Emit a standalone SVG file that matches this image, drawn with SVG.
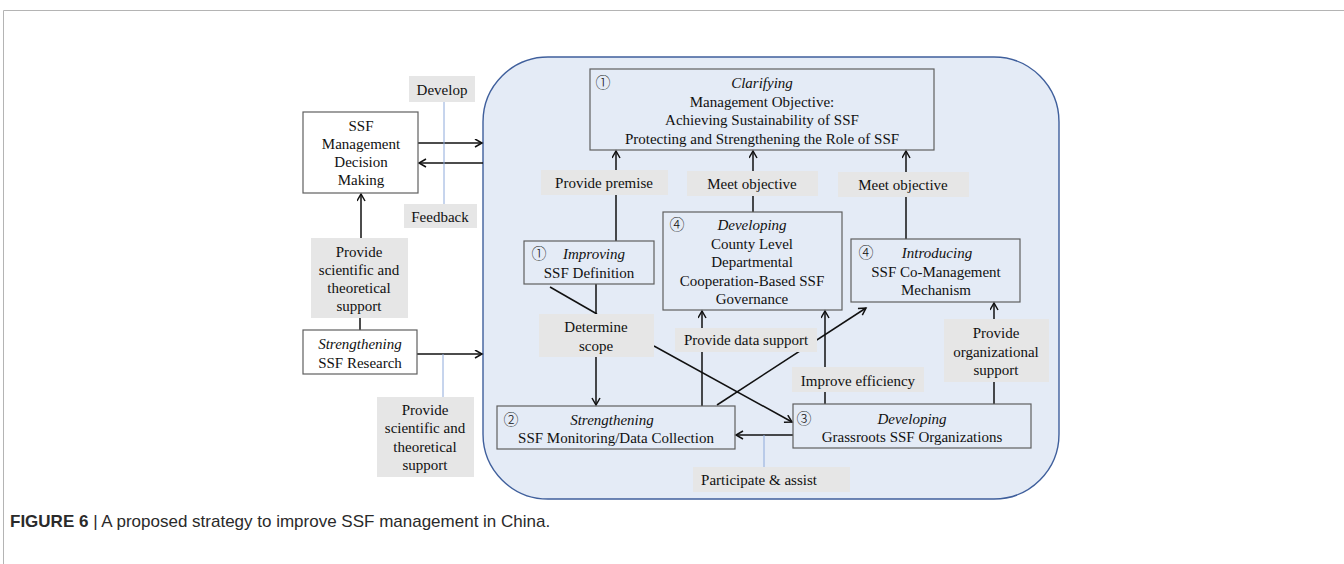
<svg xmlns="http://www.w3.org/2000/svg" width="1344" height="564" viewBox="0 0 1344 564">
<style>
text{font-family:"Liberation Serif","Noto Sans CJK SC",serif;font-size:15px;fill:#111;text-anchor:middle}
.it{font-style:italic}
.num{font-family:"Noto Sans CJK SC","DejaVu Sans",sans-serif;font-size:15px;font-weight:300}
.box{fill:none;stroke:#5f5f5f;stroke-width:1.2}
.wbox{fill:#fff;stroke:#5f5f5f;stroke-width:1.2}
.lab{fill:#e6e6e6;stroke:none}
.ar{fill:none;stroke:#111;stroke-width:1.5}
.bl{fill:none;stroke:#8eaadb;stroke-width:1}
.cap{font-family:"Liberation Sans",Arial,sans-serif;font-size:17px;text-anchor:start;fill:#2a2a2a}
</style>
<defs>
<marker id="ah" markerUnits="userSpaceOnUse" markerWidth="10" markerHeight="10" refX="8" refY="4.5" orient="auto">
<path d="M1,0.5 L8,4.5 L1,8.5" fill="none" stroke="#111" stroke-width="1.5"/>
</marker>
</defs>
<g id="frame">
<path d="M3.5,564 V10.5 H1344" fill="none" stroke="#b4b4b4" stroke-width="1"/>
</g>
<g id="container">
<rect x="483" y="57" width="576" height="442" rx="65" ry="65" fill="#e4ebf6" stroke="#3f5f9c" stroke-width="1.4"/>
</g>
<g id="connectors">
<line class="ar" x1="418" y1="143" x2="482" y2="143" marker-end="url(#ah)"/>
<line class="ar" x1="483" y1="163" x2="419" y2="163" marker-end="url(#ah)"/>
<line class="bl" x1="444" y1="102" x2="444" y2="204"/>
<line class="ar" x1="361" y1="238" x2="361" y2="194" marker-end="url(#ah)"/>
<line class="ar" x1="360" y1="318" x2="360" y2="330"/>
<line class="ar" x1="417" y1="354" x2="482" y2="354" marker-end="url(#ah)"/>
<line class="bl" x1="443" y1="354" x2="443" y2="397"/>
<line class="ar" x1="616" y1="241" x2="616" y2="195"/>
<line class="ar" x1="616" y1="170" x2="616" y2="151" marker-end="url(#ah)"/>
<line class="ar" x1="753" y1="212" x2="753" y2="196"/>
<line class="ar" x1="753" y1="171" x2="753" y2="151" marker-end="url(#ah)"/>
<line class="ar" x1="906" y1="239" x2="906" y2="197"/>
<line class="ar" x1="906" y1="172" x2="906" y2="151" marker-end="url(#ah)"/>
<line class="ar" x1="596" y1="284" x2="596" y2="314"/>
<line class="ar" x1="550" y1="287" x2="597" y2="314"/>
<line class="ar" x1="596" y1="357" x2="596" y2="405" marker-end="url(#ah)"/>
<line class="ar" x1="654" y1="346" x2="792" y2="422" marker-end="url(#ah)"/>
<line class="ar" x1="702" y1="406" x2="702" y2="311" marker-end="url(#ah)"/>
<line class="ar" x1="717" y1="405" x2="866" y2="308" marker-end="url(#ah)"/>
<line class="ar" x1="825" y1="404" x2="825" y2="392"/>
<line class="ar" x1="825" y1="367" x2="825" y2="311" marker-end="url(#ah)"/>
<line class="ar" x1="994" y1="404" x2="994" y2="382"/>
<line class="ar" x1="994" y1="319" x2="994" y2="303" marker-end="url(#ah)"/>
<line class="ar" x1="793" y1="435" x2="736" y2="435" marker-end="url(#ah)"/>
<line class="bl" x1="764" y1="435" x2="764" y2="467"/>
</g>
<g id="n-decision">
<rect class="wbox" x="303" y="112" width="115" height="81"/>
<text x="361" y="131">SSF</text>
<text x="361" y="149">Management</text>
<text x="361" y="167">Decision</text>
<text x="361" y="185">Making</text>
</g>
<g id="l-develop">
<rect class="lab" x="409" y="76" width="66" height="26"/>
<text x="442" y="95">Develop</text>
</g>
<g id="l-feedback">
<rect class="lab" x="404" y="204" width="73" height="24"/>
<text x="440" y="222">Feedback</text>
</g>
<g id="l-support1">
<rect class="lab" x="311" y="238" width="97" height="80"/>
<text x="359" y="257">Provide</text>
<text x="359" y="275">scientific and</text>
<text x="359" y="293">theoretical</text>
<text x="359" y="311">support</text>
</g>
<g id="n-research">
<rect class="wbox" x="303" y="330" width="114" height="44"/>
<text class="it" x="360" y="349">Strengthening</text>
<text x="360" y="368">SSF Research</text>
</g>
<g id="l-support2">
<rect class="lab" x="377" y="397" width="97" height="80"/>
<text x="425" y="415">Provide</text>
<text x="425" y="433">scientific and</text>
<text x="425" y="452">theoretical</text>
<text x="425" y="470">support</text>
</g>
<g id="n-clarifying">
<rect class="box" x="590" y="69" width="344" height="81"/>
<text class="num" x="603" y="88">①</text>
<text class="it" x="762" y="88">Clarifying</text>
<text x="762" y="106.5">Management Objective:</text>
<text x="762" y="125">Achieving Sustainability of SSF</text>
<text x="762" y="143.5">Protecting and Strengthening the Role of SSF</text>
</g>
<g id="l-premise">
<rect class="lab" x="541" y="170" width="127" height="25"/>
<text x="604" y="188">Provide premise</text>
</g>
<g id="l-meet1">
<rect class="lab" x="687" y="171" width="131" height="25"/>
<text x="752" y="189">Meet objective</text>
</g>
<g id="l-meet2">
<rect class="lab" x="838" y="172" width="131" height="25"/>
<text x="903" y="190">Meet objective</text>
</g>
<g id="n-improving">
<rect class="box" x="524" y="241" width="130" height="43"/>
<text class="num" x="539" y="259">①</text>
<text class="it" x="594" y="259">Improving</text>
<text x="589" y="278">SSF Definition</text>
</g>
<g id="n-county">
<rect class="box" x="663" y="212" width="179" height="98"/>
<text class="num" x="677" y="230">④</text>
<text class="it" x="752" y="230">Developing</text>
<text x="752" y="248.5">County Level</text>
<text x="752" y="267">Departmental</text>
<text x="752" y="285.5">Cooperation-Based SSF</text>
<text x="752" y="304">Governance</text>
</g>
<g id="n-comanagement">
<rect class="box" x="851" y="239" width="169" height="63"/>
<text class="num" x="866" y="258">④</text>
<text class="it" x="937" y="258">Introducing</text>
<text x="936" y="277">SSF Co-Management</text>
<text x="936" y="295">Mechanism</text>
</g>
<g id="l-scope">
<rect class="lab" x="539" y="314" width="115" height="43"/>
<text x="596" y="332">Determine</text>
<text x="596" y="351">scope</text>
</g>
<g id="l-data">
<rect class="lab" x="675" y="328" width="142" height="24"/>
<text x="746" y="345">Provide data support</text>
</g>
<g id="l-orgsupport">
<rect class="lab" x="944" y="319" width="105" height="63"/>
<text x="996" y="338">Provide</text>
<text x="996" y="357">organizational</text>
<text x="996" y="375">support</text>
</g>
<g id="l-efficiency">
<rect class="lab" x="792" y="367" width="132" height="25"/>
<text x="858" y="386">Improve efficiency</text>
</g>
<g id="n-monitoring">
<rect class="box" x="497" y="406" width="238" height="43"/>
<text class="num" x="511" y="425">②</text>
<text class="it" x="612" y="425">Strengthening</text>
<text x="616" y="443">SSF Monitoring/Data Collection</text>
</g>
<g id="n-grassroots">
<rect class="box" x="793" y="404" width="238" height="44"/>
<text class="num" x="804" y="424">③</text>
<text class="it" x="912" y="424">Developing</text>
<text x="912" y="442">Grassroots SSF Organizations</text>
</g>
<g id="l-participate">
<rect class="lab" x="693" y="467" width="157" height="25"/>
<text x="759" y="485">Participate &amp; assist</text>
</g>
<g id="caption">
<text class="cap" x="10" y="527"><tspan font-weight="bold">FIGURE 6</tspan> | A proposed strategy to improve SSF management in China.</text>
</g>
</svg>
